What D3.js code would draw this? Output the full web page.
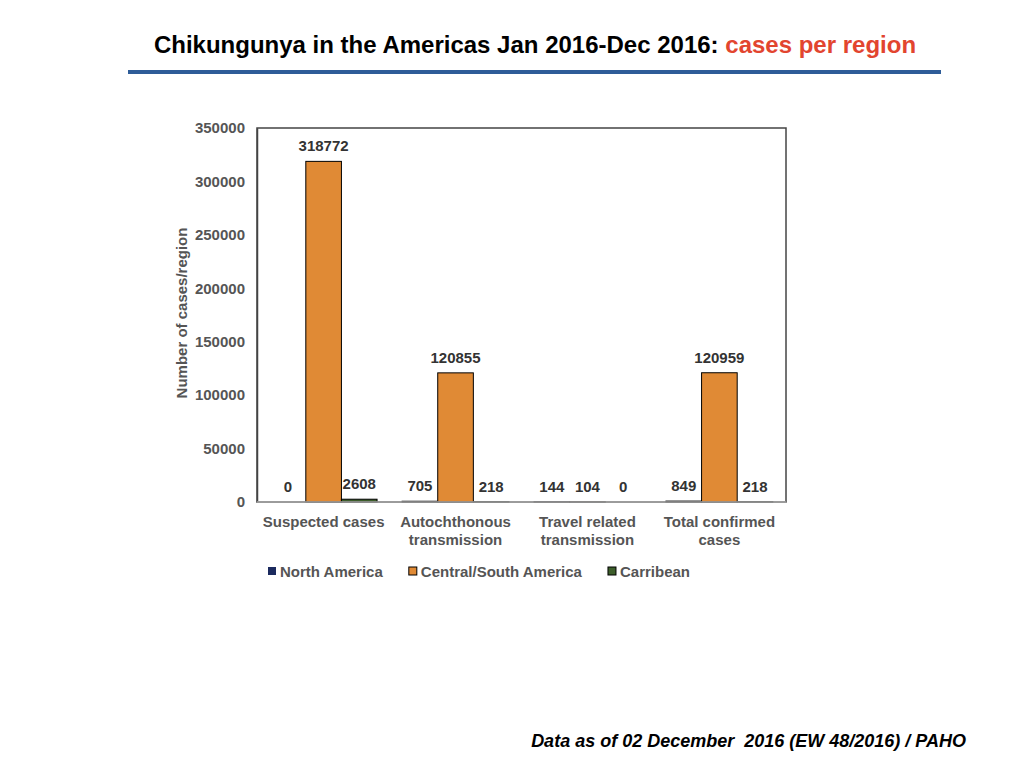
<!DOCTYPE html>
<html>
<head>
<meta charset="utf-8">
<script src="https://cdn.jsdelivr.net/npm/d3@7"></script>
<style>
  body { margin: 0; background: #fff; }
  svg { font-family: "Liberation Sans", Arial, sans-serif; }
</style>
</head>
<body>
<svg id="chart" width="1024" height="768"></svg>
<script>
// categories and series
const categories = ["Suspected cases", "Autochthonous transmission", "Travel related transmission", "Total confirmed cases"];
const categoryLines = [["Suspected cases"], ["Autochthonous", "transmission"], ["Travel related", "transmission"], ["Total confirmed", "cases"]];
const regions = ["North America", "Central/South America", "Carribean"];
const northAmerica = [0, 705, 144, 849];
const centralSouthAmerica = [318772, 120855, 104, 120959];
const caribbean = [2608, 218, 0, 218];
const yTicks = [0, 50000, 100000, 150000, 200000, 250000, 300000, 350000];

const series = [northAmerica, centralSouthAmerica, caribbean];
const colors = ["#1b2a5e", "#e08a35", "#3d5e2b"];

const svg = d3.select("#chart");
const margin = { top: 128, right: 238, bottom: 266, left: 257 };
const width = 1024 - margin.left - margin.right;
const height = 768 - margin.top - margin.bottom;

// title
const title = svg.append("text")
    .attr("x", 535)
    .attr("y", 53)
    .attr("text-anchor", "middle")
    .style("font-size", "24px")
    .style("font-weight", "bold");
title.append("tspan").attr("fill", "#000").text("Chikungunya in the Americas Jan 2016-Dec 2016: ");
title.append("tspan").attr("fill", "#e2452f").text("cases per region");

svg.append("rect")
    .attr("x", 128).attr("y", 70)
    .attr("width", 813).attr("height", 4)
    .attr("fill", "#2e5c98");

const g = svg.append("g").attr("transform", `translate(${margin.left},${margin.top})`);

const x0 = d3.scaleBand()
    .domain(categories)
    .range([0, width])
    .paddingInner(0.19)
    .paddingOuter(0.1);

const x1 = d3.scaleBand()
    .domain(regions)
    .range([0, x0.bandwidth()]);

const y = d3.scaleLinear()
    .domain([0, 350000])
    .range([height, 0]);

// frame
g.append("rect")
    .attr("width", width).attr("height", height)
    .attr("fill", "none")
    .attr("stroke", "#444")
    .attr("stroke-width", 1.5);

// y axis
const yAxis = g.append("g")
    .call(d3.axisLeft(y).tickValues(yTicks).tickSize(0).tickPadding(12).tickFormat(d3.format("d")));
yAxis.select(".domain").attr("stroke", "#444").attr("stroke-width", 1.5);
yAxis.selectAll("text")
    .style("font-size", "15px")
    .style("font-weight", "bold")
    .attr("fill", "#555");

svg.append("text")
    .attr("transform", `translate(187,${margin.top + height / 2 - 2}) rotate(-90)`)
    .attr("text-anchor", "middle")
    .style("font-size", "15px")
    .style("font-weight", "bold")
    .attr("fill", "#555")
    .text("Number of cases/region");

// bars
const groups = g.selectAll(".group")
    .data(categories)
    .join("g")
    .attr("transform", d => `translate(${x0(d)},0)`);

regions.forEach((r, ri) => {
    groups.append("rect")
        .attr("x", x1(r))
        .attr("y", (d, i) => y(series[ri][i]))
        .attr("width", x1.bandwidth())
        .attr("height", (d, i) => height - y(series[ri][i]))
        .attr("fill", colors[ri])
        .attr("stroke", "#000")
        .attr("stroke-width", 1);

    groups.append("text")
        .attr("x", x1(r) + x1.bandwidth() / 2)
        .attr("y", (d, i) => y(series[ri][i]) - 10)
        .attr("text-anchor", "middle")
        .style("font-size", "15px")
        .style("font-weight", "bold")
        .attr("fill", "#333")
        .text((d, i) => series[ri][i]);
});

// bottom axis line
g.append("line")
    .attr("x1", 0).attr("x2", width)
    .attr("y1", height).attr("y2", height)
    .attr("stroke", "#aaa")
    .attr("stroke-width", 1.5);

// category labels
categories.forEach((c, i) => {
    const t = g.append("text")
        .attr("x", x0(c) + x0.bandwidth() / 2)
        .attr("y", height + 25)
        .attr("text-anchor", "middle")
        .style("font-size", "15px")
        .style("font-weight", "bold")
        .attr("fill", "#555");
    categoryLines[i].forEach((line, li) => {
        t.append("tspan")
            .attr("x", x0(c) + x0.bandwidth() / 2)
            .attr("dy", li === 0 ? 0 : 18)
            .text(line);
    });
});

// legend
const legend = svg.append("g").attr("transform", "translate(268,577)");
let lx = 0;
regions.forEach((r, i) => {
    const item = legend.append("g").attr("transform", `translate(${lx},0)`);
    item.append("rect")
        .attr("x", 0).attr("y", -10)
        .attr("width", 8).attr("height", 8)
        .attr("fill", colors[i])
        .attr("stroke", i === 0 ? "none" : "#000")
        .attr("stroke-width", 1);
    const txt = item.append("text")
        .attr("x", 12)
        .attr("y", 0)
        .style("font-size", "15px")
        .style("font-weight", "bold")
        .attr("fill", "#555")
        .text(r);
    lx += 12 + txt.node().getComputedTextLength() + 26;
});

// footer
svg.append("text")
    .attr("x", 966)
    .attr("y", 747)
    .attr("text-anchor", "end")
    .style("font-size", "18px")
    .style("font-weight", "bold")
    .style("font-style", "italic")
    .attr("fill", "#000")
    .attr("xml:space", "preserve")
    .text("Data as of 02 December  2016 (EW 48/2016) / PAHO");
</script>
</body>
</html>
